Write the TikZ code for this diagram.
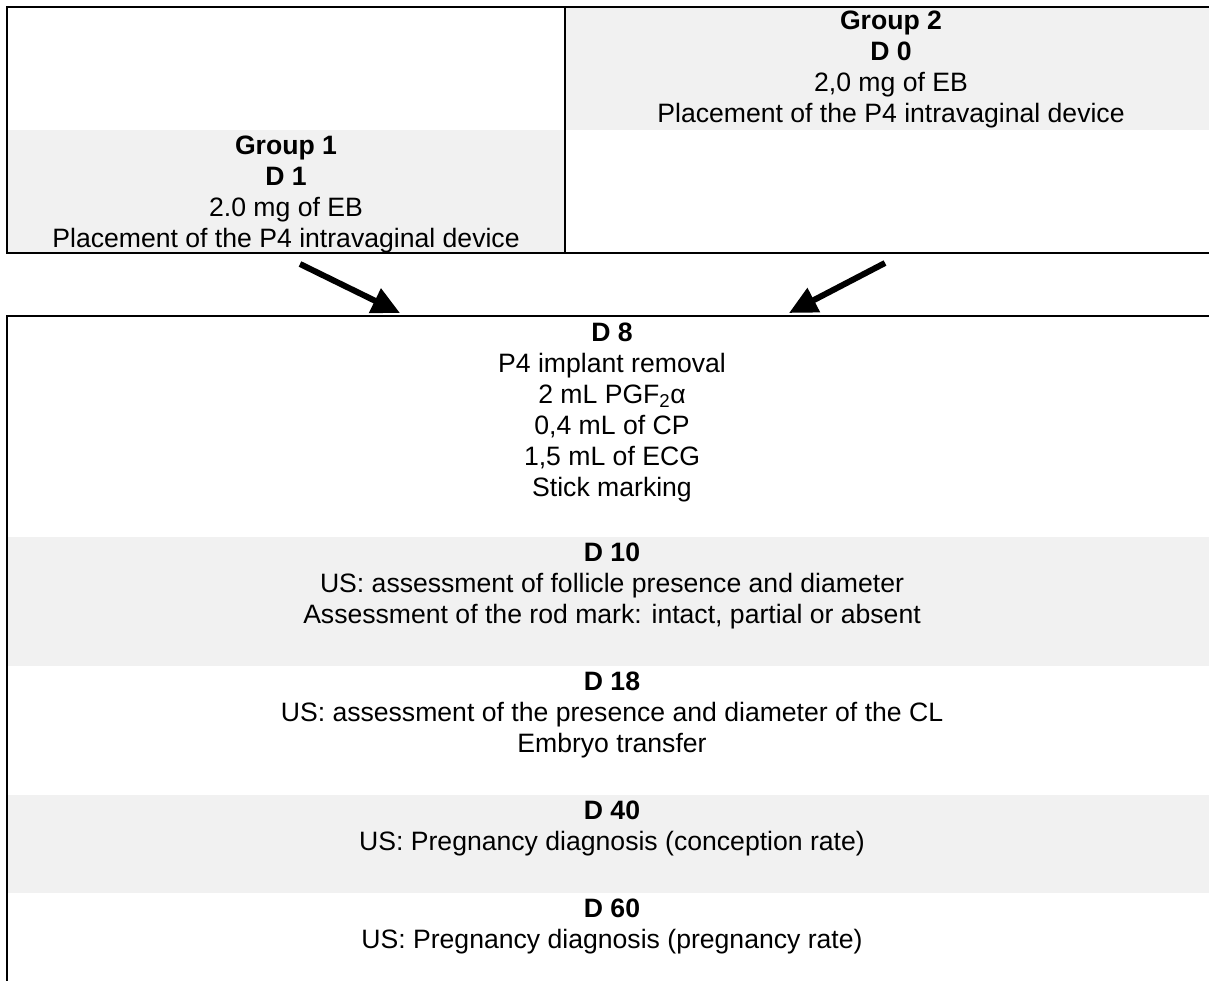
\documentclass[tikz,border=0pt]{standalone}
\usepackage{fontspec}
\setmainfont{Liberation Sans}
\usetikzlibrary{arrows.meta}
\definecolor{band}{HTML}{F1F1F1}
\newcommand{\mystrut}{\rule{0pt}{22pt}}
\begin{document}
\begin{tikzpicture}[x=1pt,y=-1pt,
  frame/.style={line width=2.4pt,black},
  cell/.style={anchor=north,inner sep=0pt,align=center,font=\fontsize{26.6}{31}\selectfont},
  bigarrow/.style={line width=6pt,-{Triangle[length=28pt,width=26pt]}}]
\useasboundingbox (0,0) rectangle (1209,981);
% shaded bands
\fill[band] (565,7) rectangle (1209,130);
\fill[band] (7,130) rectangle (565,253);
\fill[band] (7,537) rectangle (1209,666);
\fill[band] (7,795) rectangle (1209,893);
% frames
\draw[frame] (1209,7) -- (7,7) -- (7,253) -- (1209,253);
\draw[frame] (565,7) -- (565,253);
\draw[frame] (1209,316) -- (7,316) -- (7,981);
% texts
\node[cell] (g2) at (891,29-22) {\mystrut\textbf{Group 2}\\\textbf{D 0}\\2,0 mg of EB\\Placement of the P4 intravaginal device};
\node[cell] (g1) at (286,154-22) {\mystrut\textbf{Group 1}\\\textbf{D 1}\\2.0 mg of EB\\Placement of the P4 intravaginal device};
\node[cell] (d8) at (612,341-22) {\mystrut\textbf{D 8}\\P4 implant removal\\2 mL PGF\textsubscript{2}α\\0,4 mL of CP\\1,5 mL of ECG\\Stick marking};
\node[cell] (d10) at (612,561-22) {\mystrut\textbf{D 10}\\US: assessment of follicle presence and diameter\\Assessment of the rod mark: intact, partial or absent};
\node[cell] (d18) at (612,690-22) {\mystrut\textbf{D 18}\\US: assessment of the presence and diameter of the CL\\Embryo transfer};
\node[cell] (d40) at (612,819-22) {\mystrut\textbf{D 40}\\US: Pregnancy diagnosis (conception rate)};
\node[cell] (d60) at (612,917-22) {\mystrut\textbf{D 60}\\US: Pregnancy diagnosis (pregnancy rate)};
% arrows
\coordinate (a1s) at (300,264);
\coordinate (a1e) at (400,313);
\coordinate (a2s) at (885,263);
\coordinate (a2e) at (789,313);
\draw[bigarrow] (a1s) -- (a1e);
\draw[bigarrow] (a2s) -- (a2e);
\end{tikzpicture}
\end{document}
